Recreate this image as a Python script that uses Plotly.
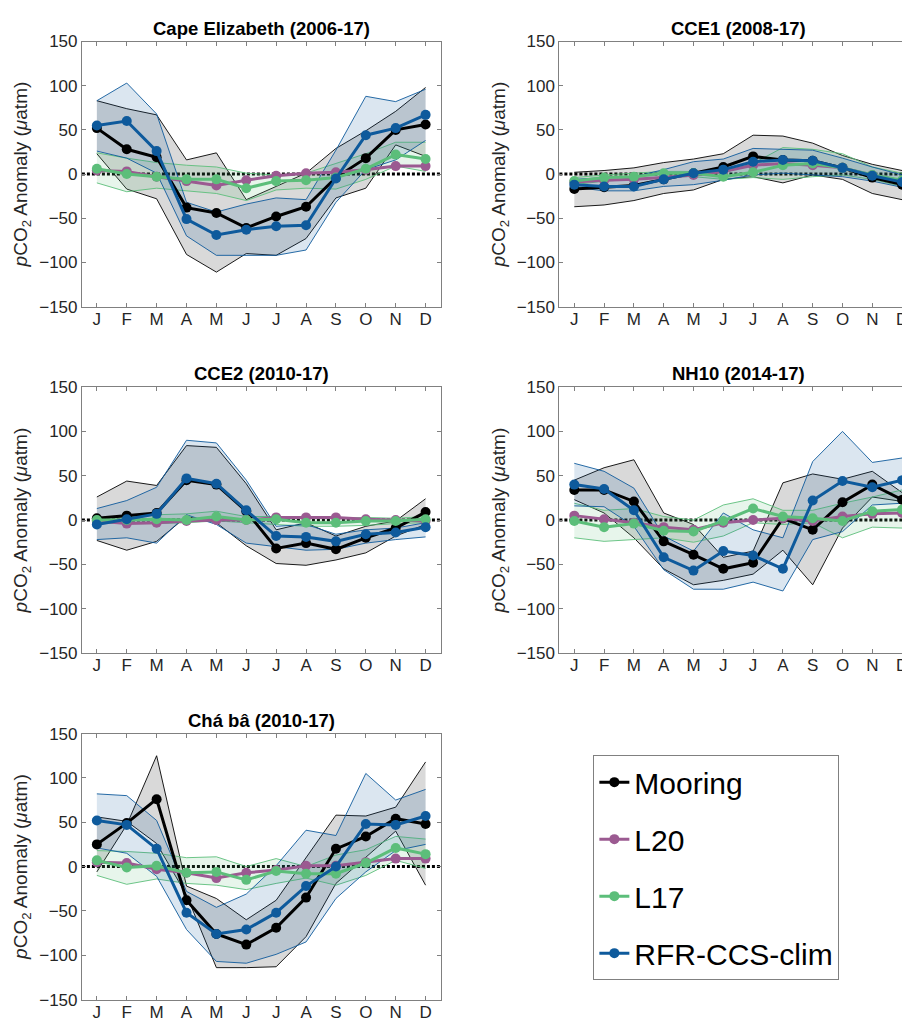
import plotly.graph_objects as go

months = ["J", "F", "M", "A", "M", "J", "J", "A", "S", "O", "N", "D"]
month_num = list(range(1, 13))
sites = ["Cape Elizabeth (2006-17)", "CCE1 (2008-17)", "CCE2 (2010-17)",
         "NH10 (2014-17)", "Chá bâ (2010-17)"]

# one row per site, in the order of `sites`
mooring_mean = [
    [52, 28, 19, -38, -44, -61, -48, -37, -4, 18, 50, 56],
    [-17, -15, -13, -6, 1, 8, 20, 16, 15, 7, -4, -12],
    [2, 5, 8, 45, 40, 10, -32, -26, -33, -20, -9, 9],
    [34, 34, 21, -24, -39, -55, -48, 2, -11, 20, 40, 23],
    [25, 49, 76, -38, -76, -88, -69, -35, 20, 34, 54, 48],
]
mooring_hi = [
    [83, 74, 67, 16, 24, -29, -14, 1, 29, 49, 71, 98],
    [2, 4, 7, 13, 17, 23, 44, 43, 35, 21, 11, 4],
    [26, 44, 39, 84, 82, 41, -11, -3, -18, -7, -1, 24],
    [45, 59, 68, 8, -5, -42, -35, 42, 52, 46, 55, 31],
    [-6, 47, 125, -22, -36, -60, -38, 10, 58, 57, 67, 118],
]
mooring_lo = [
    [23, -17, -28, -91, -111, -90, -92, -73, -27, -16, 33, 20],
    [-37, -35, -30, -22, -18, -6, -3, -10, -1, -6, -22, -29],
    [-23, -34, -24, 4, -3, -29, -49, -51, -45, -37, -18, -5],
    [23, 8, -20, -55, -73, -68, -61, -34, -73, -9, 26, 21],
    [56, 51, 26, -32, -114, -114, -113, -79, -19, 11, 40, -21],
]
l20_mean = [
    [4, 3, -3, -8, -13, -7, -2, 1, 2, 5, 9, 9],
    [-9, -7, -6, -4, -1, 3, 10, 12, 10, 7, -1, -8],
    [-1, -4, -3, -1, 0, 0, 3, 3, 3, 1, 0, -1],
    [5, 1, -3, -8, -11, -3, 0, 2, -1, 4, 7, 8],
    [5, 4, -3, -7, -13, -7, -4, 1, 1, 5, 9, 9],
]
l17_mean = [
    [6, 0, -3, -6, -6, -16, -8, -7, -4, 6, 22, 17],
    [-8, -4, -3, 1, 1, -3, 2, 10, 12, 7, -1, -7],
    [0, 0, 1, 0, 4, 0, 1, -3, -3, -1, -1, 1],
    [-1, -8, -4, -12, -13, -1, 13, 4, 2, -1, 10, 12],
    [7, -1, 1, -7, -6, -15, -5, -8, -8, 4, 21, 14],
]
l17_hi = [
    [24, 18, 13, 10, 8, 1, -1, 1, 12, 23, 36, 36],
    [-4, -1, 1, 3, 3, 1, 12, 30, 28, 23, 8, 1],
    [3, 4, 6, 7, 10, 4, 4, 3, 2, 3, 2, 4],
    [19, 11, 13, 4, 0, 17, 24, 11, 11, 19, 26, 34],
    [18, 17, 15, 10, 11, 0, 9, 0, 13, 19, 34, 31],
]
l17_lo = [
    [-10, -20, -16, -19, -22, -30, -18, -16, -17, -6, 9, 3],
    [-12, -8, -6, -3, -3, -6, -4, -6, -3, -1, -6, -14],
    [-3, -4, -4, -3, -1, -3, -5, -7, -7, -6, -4, -3],
    [-20, -24, -22, -20, -25, -18, -3, -5, -3, -20, -8, -9],
    [-10, -20, -14, -19, -21, -26, -19, -13, -21, -10, 7, -2],
]
rfr_mean = [
    [55, 60, 26, -51, -69, -63, -59, -58, -5, 44, 52, 67],
    [-12, -14, -14, -6, 1, 5, 14, 16, 15, 7, -2, -9],
    [-5, 1, 7, 47, 41, 11, -18, -19, -24, -16, -14, -8],
    [40, 35, 11, -42, -57, -35, -40, -55, 22, 44, 37, 45],
    [52, 47, 20, -52, -76, -71, -52, -22, 0, 48, 47, 57],
]
rfr_hi = [
    [83, 103, 68, -32, -43, -34, -27, -29, 27, 88, 82, 96],
    [-6, -4, -3, 5, 14, 17, 29, 28, 27, 18, 8, -1],
    [13, 22, 37, 90, 87, 45, -7, -5, -16, -11, -9, -3],
    [64, 55, 36, -18, -35, 8, -11, -20, 66, 100, 65, 70],
    [82, 80, 52, -28, -46, -31, 1, 41, 35, 105, 75, 87],
]
rfr_lo = [
    [26, 18, 1, -70, -92, -92, -92, -86, -32, 5, 16, 38],
    [-15, -19, -19, -14, -12, -7, -1, 1, -1, -3, -8, -15],
    [-22, -20, -26, 6, -5, -26, -30, -34, -33, -26, -22, -19],
    [16, 15, -7, -56, -78, -78, -70, -80, -22, -13, 17, 19],
    [21, 15, -11, -71, -107, -109, -99, -85, -36, -6, 18, 25],
]

BLACK = "#000000"
PURPLE = "#9B5A91"
GREEN = "#5CBE7A"
BLUE = "#0E5A9C"
FONT = "Liberation Sans, Arial, sans-serif"

W, H = 910, 1032
# plot boxes in figure pixels: (left, right, top, bottom);
# the page body adds 8px, so the right column runs past the window edge
boxes = [(74, 433, 25, 295), (552, 910, 25, 295),
         (74, 433, 377, 648), (552, 910, 377, 648),
         (74, 433, 730, 1001)]

fig = go.Figure()


def band(i, hi, lo, color, fillcolor):
    ax = "" if i == 0 else str(i + 1)
    fig.add_trace(go.Scatter(x=month_num, y=hi, mode="lines", line=dict(color=color, width=0.9),
                             xaxis="x" + ax, yaxis="y" + ax, showlegend=False, hoverinfo="skip"))
    fig.add_trace(go.Scatter(x=month_num, y=lo, mode="lines", line=dict(color=color, width=0.9),
                             fill="tonexty", fillcolor=fillcolor,
                             xaxis="x" + ax, yaxis="y" + ax, showlegend=False, hoverinfo="skip"))


def main_line(i, y, name, color):
    ax = "" if i == 0 else str(i + 1)
    fig.add_trace(go.Scatter(x=month_num, y=y, name=name, mode="lines+markers",
                             line=dict(color=color, width=3), marker=dict(color=color, size=10),
                             xaxis="x" + ax, yaxis="y" + ax,
                             legendgroup=name, showlegend=(i == 0)))


for i, site in enumerate(sites):
    band(i, mooring_hi[i], mooring_lo[i], BLACK, "rgba(0,0,0,0.15)")
    band(i, l17_hi[i], l17_lo[i], GREEN, "rgba(92,190,122,0.15)")
    band(i, rfr_hi[i], rfr_lo[i], BLUE, "rgba(14,90,156,0.15)")
    main_line(i, mooring_mean[i], "Mooring", BLACK)
    main_line(i, l20_mean[i], "L20", PURPLE)
    main_line(i, l17_mean[i], "L17", GREEN)
    main_line(i, rfr_mean[i], "RFR-CCS-clim", BLUE)

    l, r, t, b = boxes[i]
    ax = "" if i == 0 else str(i + 1)
    fig.layout["xaxis" + ax] = dict(
        domain=[l / W, r / W], anchor="y" + ax, range=[0.5, 12.5],
        tickvals=month_num, ticktext=months, ticks="inside", ticklen=4,
        tickcolor="#808080", showline=True, linecolor="#808080", linewidth=1,
        mirror="ticks", showgrid=False, zeroline=False, ticklabelstandoff=-3,
        tickfont=dict(family=FONT, size=17, color="#262626"))
    fig.layout["yaxis" + ax] = dict(
        domain=[1 - b / H, 1 - t / H], anchor="x" + ax, range=[-150, 150],
        tickvals=[-150, -100, -50, 0, 50, 100, 150], ticks="inside", ticklen=4,
        tickcolor="#808080", showline=True, linecolor="#808080", linewidth=1,
        mirror="ticks", showgrid=False, zeroline=False,
        tickfont=dict(family=FONT, size=17, color="#262626"),
        title=dict(text="<i>p</i>CO<sub>2</sub> Anomaly (<i>μ</i>atm)", standoff=6,
                   font=dict(family=FONT, size=19, color="#262626")))
    fig.add_shape(type="line", xref="x" + ax + " domain", yref="y" + ax,
                  x0=0, x1=1, y0=0, y1=0, layer="below",
                  line=dict(color="black", width=3, dash="3px,2px"))
    fig.add_annotation(text="<b>" + site + "</b>", x=6.5, xref="x" + ax,
                       y=1, yref="y" + ax + " domain", yanchor="bottom", yshift=1,
                       showarrow=False, font=dict(family=FONT, size=18.5, color="black"))

fig.update_layout(
    width=W, height=H,
    margin=dict(l=0, r=0, t=0, b=0),
    paper_bgcolor="white", plot_bgcolor="white",
    legend=dict(x=586 / W, xanchor="left", y=1 - 752 / H, yanchor="top",
                bordercolor="#808080", borderwidth=1, bgcolor="white",
                font=dict(family=FONT, size=30, color="black"),
                traceorder="grouped", tracegroupgap=15, itemwidth=30),
)

fig.write_html("out.html")
